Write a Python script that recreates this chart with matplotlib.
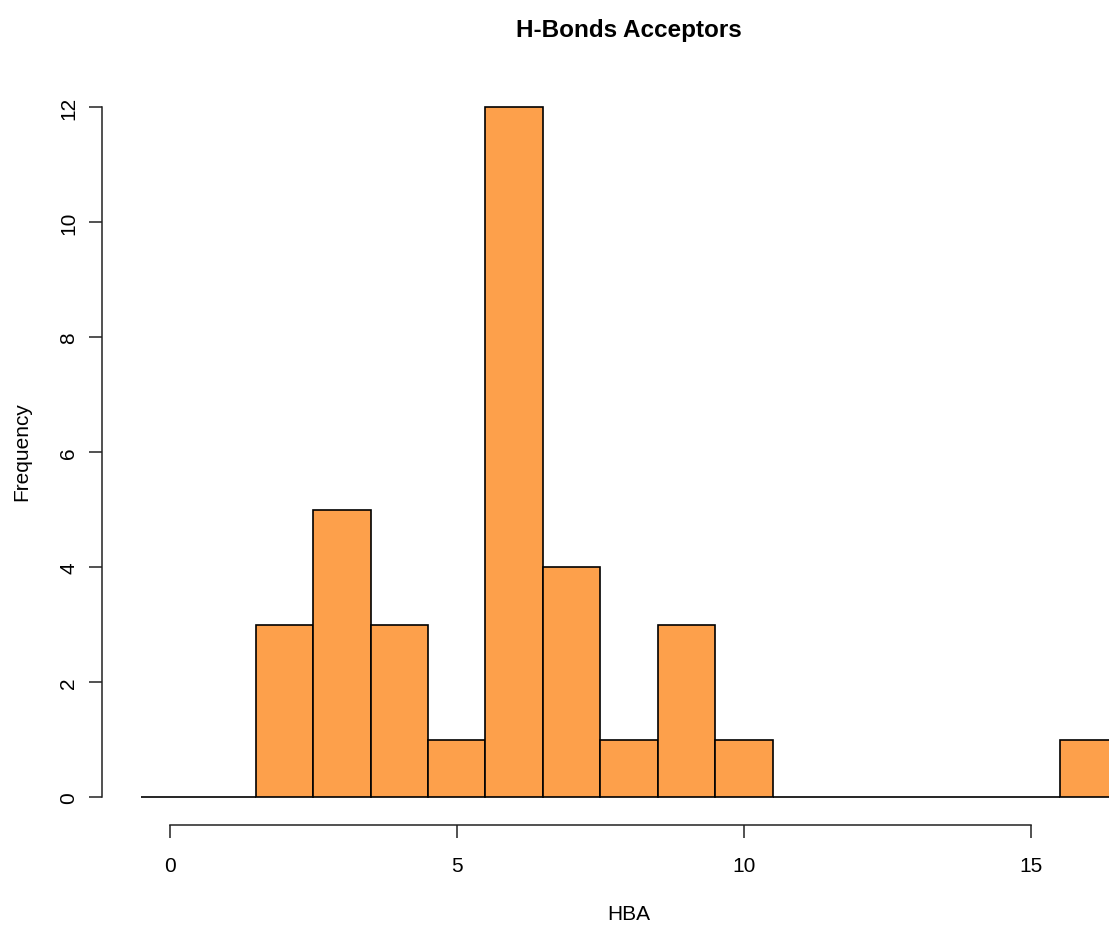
import numpy as np
import matplotlib
matplotlib.use("Agg")
import matplotlib.pyplot as plt

# histogram of HBA counts (bins of width 1, centred on integers)
bin_edges = np.arange(-0.5, 17.0, 1.0)
counts = [0, 0, 3, 5, 3, 1, 12, 4, 1, 3, 1, 0, 0, 0, 0, 0, 1]
x_ticks = [0, 5, 10, 15]
y_ticks = [0, 2, 4, 6, 8, 10, 12]

title = "H-Bonds Acceptors"
xlabel = "HBA"
ylabel = "Frequency"

plt.rcParams['font.family'] = ['Liberation Sans', 'DejaVu Sans']

W, H = 1109, 928
fig = plt.figure(figsize=(W / 100, H / 100), dpi=100)

# R-style plot region (4% padding around data range), clipped on the right
ax = fig.add_axes([102 / W, 1 - 825.6 / H, (1156 - 102) / W, (825.6 - 80.4) / H])
ax.set_xlim(-1.18, 17.18)
ax.set_ylim(-0.48, 12.48)

centers = (bin_edges[:-1] + bin_edges[1:]) / 2
widths = np.diff(bin_edges)
ax.bar(centers, counts, width=widths, color="#FDA04B", edgecolor="black",
       linewidth=1.2, clip_on=False)

for s in ["top", "right"]:
    ax.spines[s].set_visible(False)
ax.spines["left"].set_bounds(0, 12)
ax.spines["bottom"].set_bounds(0, 15)
for s in ["left", "bottom"]:
    ax.spines[s].set_linewidth(1.1)
    ax.spines[s].set_color("#222222")

ax.set_xticks(x_ticks)
ax.set_yticks(y_ticks)
ax.set_yticklabels([str(v) for v in y_ticks], rotation=90, va="center")
ax.tick_params(axis="both", length=9.5, width=1.1, color="#222222",
               labelsize=15)
ax.tick_params(axis="x", pad=13)
ax.tick_params(axis="y", pad=7.5)

fig.text(629 / W, 1 - 30 / H, title, ha="center", va="center",
         fontsize=17.5, fontweight="bold")
fig.text(629 / W, 1 - 915 / H, xlabel, ha="center", va="center", fontsize=15)
fig.text(22 / W, 1 - 452 / H, ylabel, ha="center", va="center",
         fontsize=15, rotation=90)

fig.savefig("out.png", dpi=100)
